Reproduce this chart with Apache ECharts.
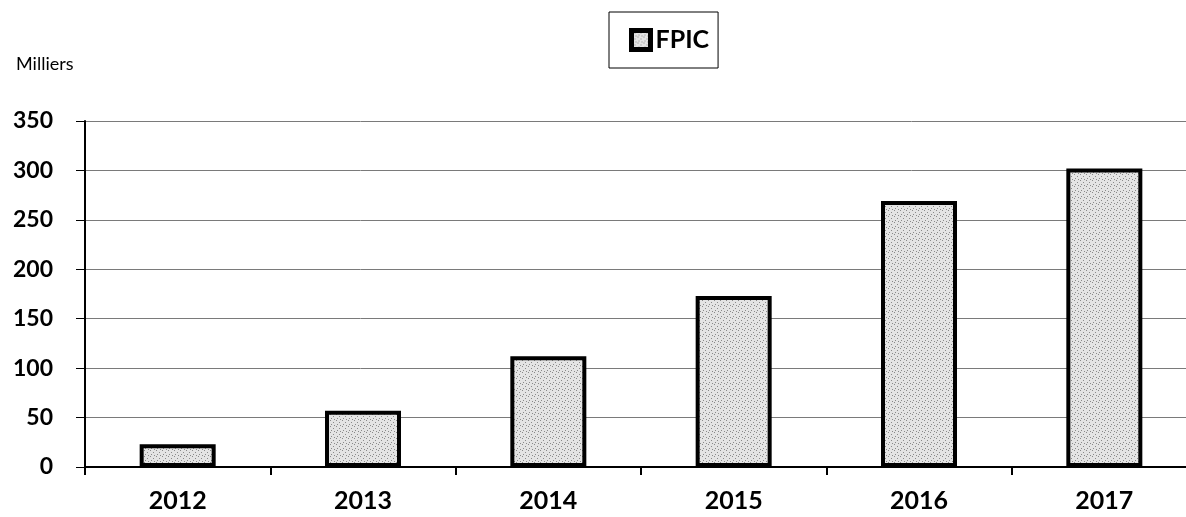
<!DOCTYPE html>
<html>
<head>
<meta charset="utf-8">
<script src="https://cdn.jsdelivr.net/npm/echarts@6/dist/echarts.min.js"></script>
<style>
  html, body { margin: 0; padding: 0; background: #fff; }
  #chart { width: 1186px; height: 517px; }
</style>
</head>
<body>
<div id="chart"></div>
<script>
// data (milliers)
var years = ['2012', '2013', '2014', '2015', '2016', '2017'];
var fpic = [23, 57, 112, 173, 269, 302];
var seriesName = 'FPIC';
var unitLabel = 'Milliers';

// dotted grey fill like the printed hatch
function dotPattern() {
  var c = document.createElement('canvas');
  c.width = 6; c.height = 6;
  var ctx = c.getContext('2d');
  ctx.fillStyle = '#e4e4e4';
  ctx.fillRect(0, 0, 6, 6);
  ctx.fillStyle = '#8a8a8a';
  ctx.fillRect(0, 0, 1, 1);
  ctx.fillRect(3, 2, 1, 1);
  ctx.fillRect(1, 4, 1, 1);
  ctx.fillRect(4, 5, 1, 1);
  return c;
}

var chart = echarts.init(document.getElementById('chart'));
var font = 'Lato, "Open Sans", sans-serif';

var option = {
  animation: false,
  textStyle: { fontFamily: font },
  // plot runs a little past the right edge of the picture
  grid: {
    left: 85, top: 121, width: 1112, bottom: 50,
    containLabel: false, outerBoundsMode: 'none'
  },
  title: {
    text: unitLabel, left: 11, top: 50,
    textStyle: { fontSize: 18, fontWeight: 'normal', color: '#000', fontFamily: font }
  },
  legend: {
    data: [seriesName], left: 609, top: 12,
    padding: [15, 9, 15, 20],
    borderColor: '#000', borderWidth: 1,
    icon: 'rect',
    itemWidth: 19, itemHeight: 19, itemGap: 5,
    itemStyle: { borderColor: '#000', borderWidth: 5 },
    textStyle: { fontSize: 25, lineHeight: 26, fontWeight: 'bold', color: '#000', fontFamily: font }
  },
  xAxis: {
    type: 'category', data: years,
    axisLine: { lineStyle: { color: '#000', width: 2 } },
    axisTick: { show: true, length: 8, lineStyle: { color: '#000', width: 2 } },
    axisLabel: { margin: 21, fontSize: 25, fontWeight: 'bold', color: '#000' },
    splitLine: { show: false }
  },
  yAxis: {
    type: 'value', min: 0, max: 350, interval: 50,
    axisLine: { show: true, lineStyle: { color: '#000', width: 2 } },
    axisTick: { show: true, length: 9, lineStyle: { color: '#000', width: 1 } },
    axisLabel: { margin: 32, fontSize: 23, fontWeight: 'bold', color: '#000' },
    splitLine: { lineStyle: { color: '#7a7a7a', width: 1 } }
  },
  series: [{
    name: seriesName, type: 'bar', data: fpic,
    barWidth: 76,
    itemStyle: {
      color: { image: dotPattern(), repeat: 'repeat' },
      borderColor: '#000', borderWidth: 4
    }
  }]
};
chart.setOption(option);
</script>
</body>
</html>
